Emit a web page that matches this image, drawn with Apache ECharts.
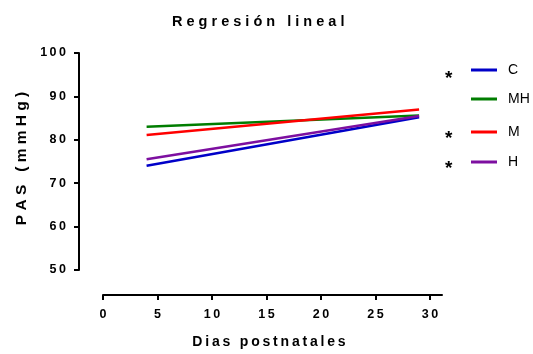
<!DOCTYPE html>
<html>
<head>
<meta charset="utf-8">
<script src="https://cdn.jsdelivr.net/npm/echarts@6/dist/echarts.min.js"></script>
<style>
  html, body { margin: 0; padding: 0; background: #fff; }
  #chart { width: 533px; height: 354px; }
</style>
</head>
<body>
<div id="chart"></div>
<script>
// Regression line endpoints (day, PAS in mmHg)
const days = [4, 29];
const seriesNames = ['C', 'MH', 'M', 'H'];
const valuesC = [74.0, 85.2];
const valuesMH = [83.0, 85.6];
const valuesM = [81.1, 87.0];
const valuesH = [75.5, 85.5];
const significant = ['C', 'M', 'H'];
const xTicks = [0, 5, 10, 15, 20, 25, 30];
const yTicks = [50, 60, 70, 80, 90, 100];

const colors = { C: '#0000c8', MH: '#007d00', M: '#ff0000', H: '#7d0fa0' };
const valuesByName = { C: valuesC, MH: valuesMH, M: valuesM, H: valuesH };
const FONT = '"Liberation Sans", Arial, sans-serif';

// widen the tracking of a string by putting a separator between characters
function spaced(s, sep) { return String(s).split('').join(sep); }
const WIDE = ' ';
const THIN = '\u2009';

const legendTops = { C: 58, MH: 87, M: 120, H: 150 };
const asteriskTops = { C: 69, M: 129, H: 159 };

const chart = echarts.init(document.getElementById('chart'));
chart.setOption({
  animation: false,
  title: {
    text: spaced('Regresión lineal', WIDE),
    left: 167, top: 9,
    textStyle: { fontFamily: FONT, fontSize: 14.5, fontWeight: 'bold', color: '#000' }
  },
  grid: { left: 103, right: 91, top: 53, bottom: 84, containLabel: false },
  xAxis: {
    type: 'value', min: 0, max: 31.1, interval: 5,
    offset: 25,
    name: spaced('Dias postnatales', THIN),
    nameLocation: 'middle', nameGap: 40,
    nameTextStyle: { fontFamily: FONT, fontSize: 14, fontWeight: 'bold', color: '#000', padding: [0, 7, 0, 0] },
    axisLine: { onZero: false, lineStyle: { color: '#000', width: 2 } },
    axisTick: { show: true, length: 5, lineStyle: { color: '#000', width: 2 }, customValues: xTicks },
    axisLabel: {
      customValues: xTicks, margin: 13,
      fontFamily: FONT, fontSize: 12.5, fontWeight: 'bold', color: '#000',
      formatter: v => spaced(v, THIN)
    },
    splitLine: { show: false }
  },
  yAxis: {
    type: 'value', min: 50, max: 100, interval: 10,
    offset: 24,
    name: spaced('PAS (mmHg)', WIDE),
    nameLocation: 'middle', nameGap: 48,
    nameTextStyle: { fontFamily: FONT, fontSize: 15.5, fontWeight: 'bold', color: '#000', padding: [0, 0, 0, 6] },
    axisLine: { show: true, onZero: false, lineStyle: { color: '#000', width: 2 } },
    axisTick: { show: true, length: 5, lineStyle: { color: '#000', width: 2 } },
    axisLabel: {
      margin: 13,
      fontFamily: FONT, fontSize: 12.5, fontWeight: 'bold', color: '#000',
      formatter: v => spaced(v, THIN)
    },
    splitLine: { show: false }
  },
  legend: seriesNames.map(n => ({
    data: [n],
    orient: 'vertical',
    left: 466, top: legendTops[n],
    icon: 'rect', itemWidth: 26, itemHeight: 3, itemGap: 14,
    textStyle: { fontFamily: FONT, fontSize: 14, color: '#000', padding: [0, 0, 0, 6] }
  })),
  graphic: significant.map(n => ({
    type: 'text',
    left: 445, top: asteriskTops[n],
    style: { text: '*', font: 'bold 19px ' + FONT, fill: '#000' }
  })),
  series: seriesNames.map(n => ({
    name: n,
    type: 'line',
    data: days.map((d, i) => [d, valuesByName[n][i]]),
    showSymbol: false,
    symbol: 'none',
    lineStyle: { color: colors[n], width: 2.5 },
    itemStyle: { color: colors[n] }
  }))
});
</script>
</body>
</html>
